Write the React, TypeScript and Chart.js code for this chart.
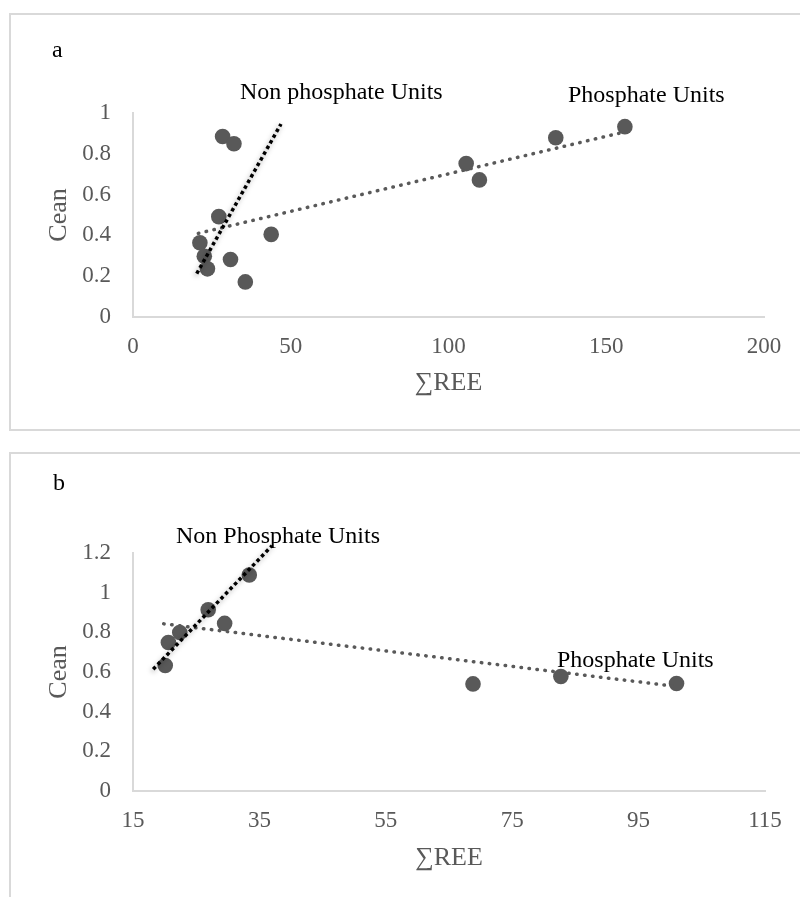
import React, { useEffect, useRef } from "react";
import { Chart, registerables } from "chart.js";
Chart.register(...registerables);

// ---------- Panel a ----------
const reeA = [28.4, 32.0, 27.2, 21.2, 22.6, 23.6, 30.9, 35.6, 43.8, 105.6, 109.8, 134.0, 155.9];
const ceanA = [0.885, 0.849, 0.492, 0.364, 0.298, 0.236, 0.282, 0.172, 0.405, 0.752, 0.672, 0.879, 0.933];
const nonPhosTrendAx = [20.2, 46.9];
const nonPhosTrendAy = [0.213, 0.946];
const phosTrendAx = [20.7, 154.4];
const phosTrendAy = [0.41, 0.902];
const xTicksA = [0, 50, 100, 150, 200];
const yTicksA = [0, 0.2, 0.4, 0.6, 0.8, 1];

// ---------- Panel b ----------
const reeB = [20.1, 20.6, 22.4, 26.9, 29.5, 33.4, 68.8, 82.7, 101.0];
const ceanB = [0.633, 0.749, 0.799, 0.914, 0.845, 1.089, 0.540, 0.577, 0.542];
const nonPhosTrendBx = [18.2, 37.0];
const nonPhosTrendBy = [0.614, 1.237];
const phosTrendBx = [19.85, 101.0];
const phosTrendBy = [0.843, 0.527];
const xTicksB = [15, 35, 55, 75, 95, 115];
const yTicksB = [0, 0.2, 0.4, 0.6, 0.8, 1, 1.2];

const xTitle = "∑REE";
const yTitle = "Cean";

const SERIF = "'Liberation Serif', 'Times New Roman', 'DejaVu Serif', serif";
const GRAY = "#595959";
const AXIS = "#d9d9d9";

type Label = { text: string; x: number; y: number };

type PanelCfg = {
  height: number;
  xs: number[];
  ys: number[];
  nonX: number[];
  nonY: number[];
  phX: number[];
  phY: number[];
  xTicks: number[];
  yTicks: number[];
  padTop: number;
  padRight: number;
  yWidth: number;
  xHeight: number;
  xTitlePadBottom: number;
  labels: Label[];
};

const pts = (xs: number[], ys: number[]) => xs.map((x, i) => ({ x, y: ys[i] }));

function makeConfig(p: PanelCfg): any {
  const labelPlugin = {
    id: "labels",
    afterDraw(chart: any) {
      const ctx = chart.ctx;
      ctx.save();
      ctx.fillStyle = "#000";
      ctx.font = `24px ${SERIF}`;
      ctx.textAlign = "left";
      ctx.textBaseline = "alphabetic";
      p.labels.forEach((l) => ctx.fillText(l.text, l.x, l.y));
      ctx.restore();
    },
  };
  const shadowPlugin = {
    id: "glow",
    beforeDatasetDraw(chart: any, args: any) {
      if (args.index === 0) {
        const ctx = chart.ctx;
        ctx.save();
        ctx.shadowColor = "rgba(0,0,0,0.35)";
        ctx.shadowBlur = 5;
        ctx.shadowOffsetX = -1;
        ctx.shadowOffsetY = 2;
      }
    },
    afterDatasetDraw(chart: any, args: any) {
      if (args.index === 0) chart.ctx.restore();
    },
  };
  const xmin = p.xTicks[0];
  const xmax = p.xTicks[p.xTicks.length - 1];
  const ymin = p.yTicks[0];
  const ymax = p.yTicks[p.yTicks.length - 1];
  return {
    type: "scatter",
    data: {
      datasets: [
        {
          label: "Non phosphate trend",
          data: pts(p.nonX, p.nonY),
          showLine: true,
          borderColor: "#000",
          borderWidth: 3.5,
          borderDash: [3.5, 3],
          borderCapStyle: "butt",
          pointRadius: 0,
          clip: false,
          order: 1,
        },
        {
          label: "Phosphate trend",
          data: pts(p.phX, p.phY),
          showLine: true,
          borderColor: GRAY,
          borderWidth: 3.5,
          borderDash: [0.5, 7.5],
          borderCapStyle: "round",
          pointRadius: 0,
          clip: false,
          order: 2,
        },
        {
          label: "Samples",
          data: pts(p.xs, p.ys),
          pointRadius: 7.8,
          pointBackgroundColor: GRAY,
          pointBorderWidth: 0,
          order: 3,
        },
      ],
    },
    options: {
      animation: false,
      responsive: false,
      devicePixelRatio: 1,
      layout: { padding: { top: p.padTop, right: p.padRight, left: 0, bottom: 0 } },
      plugins: { legend: { display: false }, tooltip: { enabled: false } },
      scales: {
        x: {
          type: "linear",
          min: xmin,
          max: xmax,
          grid: { display: false, drawTicks: false },
          border: { display: true, color: AXIS, width: 2 },
          afterBuildTicks: (s: any) => {
            s.ticks = p.xTicks.map((v) => ({ value: v }));
          },
          afterFit: (s: any) => {
            s.height = p.xHeight;
          },
          ticks: {
            color: GRAY,
            padding: 16,
            maxRotation: 0,
            autoSkip: false,
            font: { family: SERIF, size: 23 },
          },
          title: {
            display: true,
            text: xTitle,
            color: GRAY,
            font: { family: SERIF, size: 26 },
            padding: { top: 0, bottom: p.xTitlePadBottom },
          },
        },
        y: {
          type: "linear",
          min: ymin,
          max: ymax,
          grid: { display: false, drawTicks: false },
          border: { display: true, color: AXIS, width: 2 },
          afterBuildTicks: (s: any) => {
            s.ticks = p.yTicks.map((v) => ({ value: v }));
          },
          afterFit: (s: any) => {
            s.width = p.yWidth;
          },
          ticks: {
            color: GRAY,
            padding: 22,
            autoSkip: false,
            font: { family: SERIF, size: 23 },
            callback: (v: any) => String(Math.round(Number(v) * 10) / 10),
          },
          title: {
            display: true,
            text: yTitle,
            color: GRAY,
            font: { family: SERIF, size: 26 },
            padding: { top: 44, bottom: 0 },
          },
        },
      },
    },
    plugins: [labelPlugin, shadowPlugin],
  };
}

const panelA: PanelCfg = {
  height: 440,
  xs: reeA,
  ys: ceanA,
  nonX: nonPhosTrendAx,
  nonY: nonPhosTrendAy,
  phX: phosTrendAx,
  phY: phosTrendAy,
  xTicks: xTicksA,
  yTicks: yTicksA,
  padTop: 113,
  padRight: 36,
  yWidth: 133,
  xHeight: 123,
  xTitlePadBottom: 41,
  labels: [
    { text: "a", x: 52, y: 57 },
    { text: "Non phosphate Units", x: 240, y: 99 },
    { text: "Phosphate Units", x: 568, y: 102 },
  ],
};

const panelB: PanelCfg = {
  height: 457,
  xs: reeB,
  ys: ceanB,
  nonX: nonPhosTrendBx,
  nonY: nonPhosTrendBy,
  phX: phosTrendBx,
  phY: phosTrendBy,
  xTicks: xTicksB,
  yTicks: yTicksB,
  padTop: 113,
  padRight: 35,
  yWidth: 133,
  xHeight: 106,
  xTitlePadBottom: 23,
  labels: [
    { text: "b", x: 53, y: 50 },
    { text: "Non Phosphate Units", x: 176, y: 103 },
    { text: "Phosphate Units", x: 557, y: 227 },
  ],
};

function Panel({ cfg, top }: { cfg: PanelCfg; top: number }) {
  const ref = useRef<HTMLCanvasElement | null>(null);
  useEffect(() => {
    if (!ref.current) return;
    const chart = new Chart(ref.current, makeConfig(cfg));
    return () => chart.destroy();
  }, [cfg]);
  return (
    <canvas
      ref={ref}
      width={800}
      height={cfg.height}
      style={{ position: "absolute", left: 0, top, width: 800, height: cfg.height }}
    />
  );
}

export default function App() {
  return (
    <div
      style={{
        position: "absolute",
        left: 0,
        top: 0,
        width: 800,
        height: 897,
        overflow: "hidden",
        background: "#fff",
      }}
    >
      <div
        style={{
          position: "absolute",
          left: 9,
          top: 13,
          width: 820,
          height: 418,
          border: `2px solid ${AXIS}`,
          boxSizing: "border-box",
        }}
      />
      <div
        style={{
          position: "absolute",
          left: 9,
          top: 452,
          width: 820,
          height: 500,
          border: `2px solid ${AXIS}`,
          boxSizing: "border-box",
        }}
      />
      <Panel cfg={panelA} top={0} />
      <Panel cfg={panelB} top={440} />
    </div>
  );
}
